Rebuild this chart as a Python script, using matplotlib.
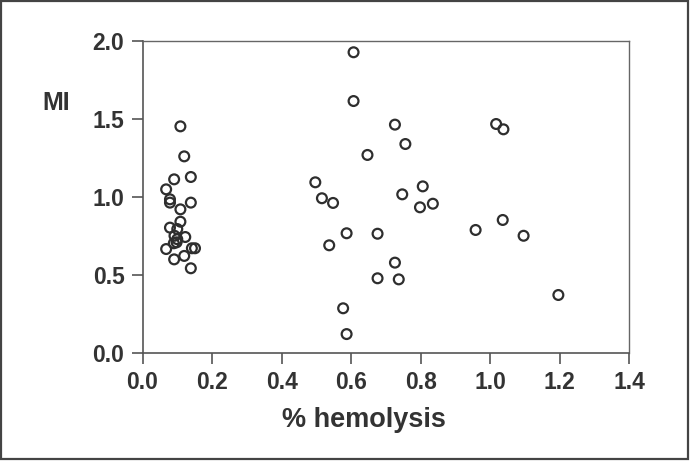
import matplotlib
matplotlib.use("Agg")
import matplotlib.pyplot as plt
from matplotlib.patches import Rectangle

# low hemolysis group
low_hemolysis = [0.109, 0.120, 0.091, 0.139, 0.068, 0.079, 0.079, 0.139, 0.109, 0.109,
                 0.079, 0.100, 0.092, 0.123, 0.100, 0.090, 0.098, 0.068, 0.142, 0.151,
                 0.091, 0.120, 0.139]
low_mi = [1.452, 1.260, 1.113, 1.128, 1.049, 0.985, 0.964, 0.964, 0.921, 0.842,
          0.804, 0.795, 0.752, 0.744, 0.730, 0.704, 0.710, 0.667, 0.672, 0.672,
          0.601, 0.623, 0.544]

# higher hemolysis group
high_hemolysis = [0.607, 0.607, 0.726, 0.756, 0.647, 0.497, 0.516, 0.548, 0.747, 0.806,
                  0.798, 0.835, 0.587, 0.676, 0.537, 0.726, 0.676, 0.737, 0.577, 0.587,
                  1.017, 1.038, 1.036, 0.958, 1.096, 1.196]
high_mi = [1.926, 1.614, 1.463, 1.339, 1.269, 1.094, 0.992, 0.962, 1.017, 1.068,
           0.934, 0.957, 0.768, 0.765, 0.691, 0.580, 0.480, 0.473, 0.288, 0.123,
           1.467, 1.433, 0.853, 0.789, 0.752, 0.373]

x_ticks = [0.0, 0.2, 0.4, 0.6, 0.8, 1.0, 1.2, 1.4]
y_ticks = [0.0, 0.5, 1.0, 1.5, 2.0]

TEXT = "#333333"
plt.rcParams["font.family"] = ["Liberation Sans", "DejaVu Sans"]
plt.rcParams["font.weight"] = "bold"

fig = plt.figure(figsize=(6.92, 4.61), dpi=100)
fig.patch.set_facecolor("white")
ax = fig.add_axes([142.5 / 692, 1 - 353.3 / 461, (629.3 - 142.5) / 692, (353.3 - 40.7) / 461])

ax.scatter(low_hemolysis + high_hemolysis, low_mi + high_mi, s=50,
           facecolors="none", edgecolors="#2e2e2e", linewidths=1.6, zorder=3)

ax.set_xlim(0, 1.4)
ax.set_ylim(0, 2.0)
ax.set_xticks(x_ticks)
ax.set_yticks(y_ticks)
ax.set_xticklabels([f"{v:.1f}" for v in x_ticks])
ax.set_yticklabels([f"{v:.1f}" for v in y_ticks])
ax.tick_params(axis="both", direction="out", length=8, width=1.2, color="#555555",
               labelsize=16.5, labelcolor=TEXT)
ax.tick_params(axis="x", pad=4.5)
ax.tick_params(axis="y", pad=5)
for lab in ax.get_xticklabels() + ax.get_yticklabels():
    lab.set_fontweight("bold")

for side in ["left", "bottom"]:
    ax.spines[side].set_color("#555555")
    ax.spines[side].set_linewidth(1.2)
for side in ["top", "right"]:
    ax.spines[side].set_color("#666666")
    ax.spines[side].set_linewidth(1.0)

fig.text(56 / 692, 1 - 110 / 461, "MI", ha="center", va="baseline",
         fontsize=18, fontweight="bold", color=TEXT)
fig.text(364 / 692, 1 - 427.3 / 461, "% hemolysis", ha="center", va="baseline",
         fontsize=19.5, fontweight="bold", color=TEXT)

# outer frame of the figure
fig.patches.append(Rectangle((1.5 / 692, 2.5 / 461), (688 - 1.5) / 692, (459.5 - 2.5) / 461,
                             transform=fig.transFigure, fill=False,
                             edgecolor="#444444", linewidth=1.6))

fig.savefig("out.png", dpi=100)
plt.close(fig)
